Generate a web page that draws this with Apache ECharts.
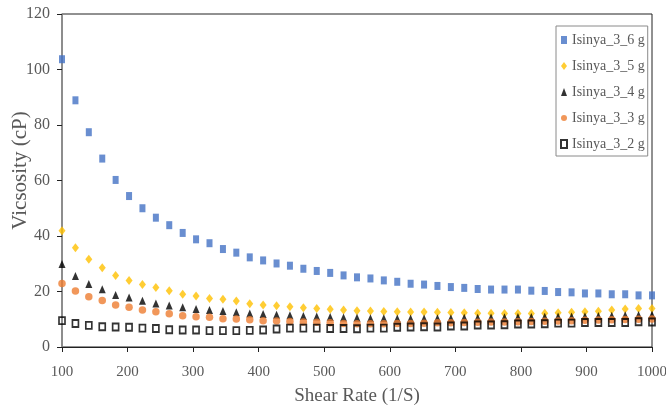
<!DOCTYPE html>
<html>
<head>
<meta charset="utf-8">
<script src="https://cdn.jsdelivr.net/npm/echarts@6/dist/echarts.min.js"></script>
<style>html,body{margin:0;padding:0;background:#fff;}#c{width:666px;height:409px;}</style>
</head>
<body>
<div id="c"></div>
<script>
var shearRate = [100, 120.5, 140.9, 161.4, 181.8, 202.3, 222.7, 243.2, 263.6, 284.1, 304.5, 325, 345.5, 365.9, 386.4, 406.8, 427.3, 447.7, 468.2, 488.6, 509.1, 529.5, 550, 570.5, 590.9, 611.4, 631.8, 652.3, 672.7, 693.2, 713.6, 734.1, 754.5, 775, 795.5, 815.9, 836.4, 856.8, 877.3, 897.7, 918.2, 938.6, 959.1, 979.5, 1000];
var seriesNames = ['Isinya_3_6 g', 'Isinya_3_5 g', 'Isinya_3_4 g', 'Isinya_3_3 g', 'Isinya_3_2 g'];
var visc6g = [103.7, 88.9, 77.4, 67.9, 60.2, 54.4, 50.0, 46.6, 43.9, 41.1, 38.8, 37.4, 35.3, 34.0, 32.3, 31.2, 30.1, 29.3, 28.2, 27.4, 26.7, 25.8, 25.1, 24.7, 24.0, 23.5, 22.8, 22.5, 22.0, 21.6, 21.3, 20.9, 20.7, 20.7, 20.7, 20.3, 20.2, 19.8, 19.7, 19.3, 19.3, 19.0, 19.0, 18.6, 18.6];
var visc5g = [41.9, 35.8, 31.6, 28.6, 25.8, 24.0, 22.5, 21.4, 20.3, 19.0, 18.4, 17.5, 17.2, 16.6, 15.6, 15.1, 14.9, 14.5, 14.1, 13.9, 13.6, 13.3, 13.1, 13.0, 12.8, 12.7, 12.6, 12.6, 12.5, 12.4, 12.3, 12.2, 12.2, 12.1, 12.1, 12.1, 12.2, 12.3, 12.5, 12.7, 12.9, 13.3, 13.7, 13.9, 13.9];
var visc4g = [29.9, 25.6, 22.7, 20.8, 18.7, 17.8, 16.7, 15.7, 15.0, 14.3, 13.7, 13.3, 13.0, 12.5, 12.1, 11.9, 11.6, 11.4, 11.2, 11.0, 10.8, 10.6, 10.5, 10.4, 10.4, 10.3, 10.3, 10.3, 10.4, 10.4, 10.5, 10.5, 10.6, 10.7, 10.8, 10.8, 10.9, 11.0, 11.0, 11.1, 11.2, 11.3, 11.4, 11.5, 11.6];
var visc3g = [22.9, 20.2, 18.1, 16.8, 15.1, 14.3, 13.3, 12.7, 12.0, 11.3, 10.9, 10.7, 10.2, 10.1, 9.8, 9.5, 9.4, 9.2, 9.0, 8.9, 8.7, 8.5, 8.4, 8.4, 8.4, 8.5, 8.5, 8.6, 8.7, 8.7, 8.8, 8.9, 9.0, 9.0, 9.1, 9.2, 9.3, 9.4, 9.5, 9.6, 9.7, 9.8, 9.9, 10.0, 10.1];
var visc2g = [9.5, 8.5, 7.8, 7.3, 7.2, 7.1, 6.8, 6.7, 6.2, 6.1, 6.1, 5.9, 5.9, 5.9, 6.0, 6.1, 6.5, 6.8, 6.8, 6.8, 6.7, 6.7, 6.6, 6.8, 6.8, 7.1, 7.2, 7.3, 7.2, 7.6, 7.6, 7.9, 7.9, 8.0, 8.3, 8.3, 8.4, 8.6, 8.6, 8.8, 8.8, 8.8, 8.8, 9.1, 9.0];
var xTitle = 'Shear Rate (1/S)';
var yTitle = 'Vicsosity (cP)';

function pairs(ys) { return shearRate.map(function (x, i) { return [x, ys[i]]; }); }
function plain(v) { return String(v); }

var serif = '"Liberation Serif","DejaVu Serif",serif';
var chart = echarts.init(document.getElementById('c'), null, { renderer: 'canvas' });
chart.setOption({
  animation: false,
  backgroundColor: '#ffffff',
  grid: { left: 62, right: 14, top: 14, bottom: 62, containLabel: false, outerBoundsMode: 'none', show: true, borderColor: '#222', borderWidth: 1, backgroundColor: 'transparent' },
  legend: {
    orient: 'vertical', left: 556, top: 26,
    backgroundColor: '#fff', borderColor: '#8a8a8a', borderWidth: 1,
    padding: [4, 3, 2, 4], itemWidth: 6, itemHeight: 8, itemGap: 6,
    textStyle: { fontFamily: serif, fontSize: 14, color: '#595959', lineHeight: 20 },
    data: seriesNames
  },
  xAxis: {
    type: 'value', min: 100, max: 1000, interval: 100,
    name: xTitle, nameLocation: 'middle', nameGap: 40, nameMoveOverlap: false,
    nameTextStyle: { fontFamily: serif, fontSize: 19, color: '#595959' },
    axisLine: { show: true, lineStyle: { color: '#222', width: 1 } },
    axisTick: { show: true, inside: false, length: 5, lineStyle: { color: '#222' } },
    axisLabel: { fontFamily: serif, fontSize: 15, color: '#595959', margin: 18, formatter: plain },
    splitLine: { show: false }
  },
  yAxis: {
    type: 'value', min: 0, max: 120, interval: 20,
    name: yTitle, nameLocation: 'middle', nameGap: 31, nameRotate: 90, nameMoveOverlap: false,
    nameTextStyle: { fontFamily: serif, fontSize: 21, color: '#595959', padding: [0, 0, 0, 20] },
    axisLine: { show: true, lineStyle: { color: '#8c8c8c', width: 1.5 } },
    axisTick: { show: true, inside: false, length: 5, lineStyle: { color: '#222' } },
    axisLabel: { fontFamily: serif, fontSize: 16, color: '#595959', margin: 12, formatter: plain },
    splitLine: { show: false }
  },
  series: [
    { name: seriesNames[0], type: 'scatter', data: pairs(visc6g), symbol: 'rect', symbolSize: [6, 8], itemStyle: { color: '#4472C4' } },
    { name: seriesNames[1], type: 'scatter', data: pairs(visc5g), symbol: 'diamond', symbolSize: [7, 9], itemStyle: { color: '#FFC000' } },
    { name: seriesNames[2], type: 'scatter', data: pairs(visc4g), symbol: 'triangle', symbolSize: [7, 8], itemStyle: { color: '#000000' } },
    { name: seriesNames[3], type: 'scatter', data: pairs(visc3g), symbol: 'circle', symbolSize: 7.5, itemStyle: { color: '#ED7D31' } },
    { name: seriesNames[4], type: 'scatter', data: pairs(visc2g), symbol: 'rect', symbolSize: [6, 7], itemStyle: { color: 'rgba(255,255,255,0)', borderColor: '#000', borderWidth: 1.8 } }
  ]
});
</script>
</body>
</html>
